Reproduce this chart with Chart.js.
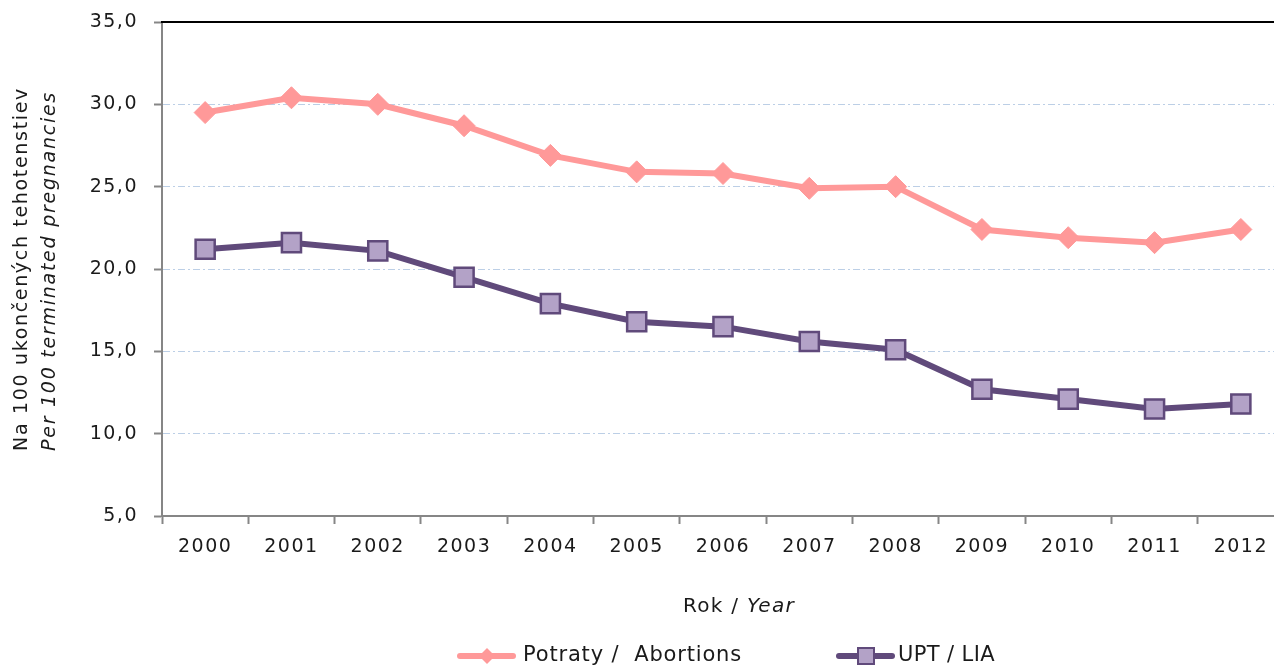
<!DOCTYPE html>
<html lang="sk">
<head>
    <meta charset="UTF-8">
    <title>Potraty a UPT na 100 ukončených tehotenstiev</title>
    <style>
        html, body {
            margin: 0;
            padding: 0;
            background-color: white;
            overflow: hidden;
        }
        #wrap {
            width: 1300px;
            height: 666px;
        }
    </style>
</head>
<body>
    <div id="wrap">
        <canvas id="lineChart" width="1300" height="666"></canvas>
    </div>

    <script src="https://cdn.jsdelivr.net/npm/chart.js"></script>
    <script>
        // Data
        const years = ['2000', '2001', '2002', '2003', '2004', '2005', '2006',
                       '2007', '2008', '2009', '2010', '2011', '2012'];
        const abortions = [29.5, 30.4, 30.0, 28.7, 26.9, 25.9, 25.8, 24.9, 25.0, 22.4, 21.9, 21.6, 22.4];
        const upt = [21.2, 21.6, 21.1, 19.5, 17.9, 16.8, 16.5, 15.6, 15.1, 12.7, 12.1, 11.5, 11.8];
        const yTicks = [5, 10, 15, 20, 25, 30, 35];

        const PINK = '#FF9999';
        const PURPLE = '#604A7B';
        const LILAC = '#B3A2C7';
        const AXIS = '#868686';
        const TEXT = '#1a1a1a';
        const FONT = '"DejaVu Sans"';

        // draw text stretched with letter spacing to a given width
        function fitText(ctx, text, font, x, y, width) {
            ctx.font = font;
            ctx.letterSpacing = '0px';
            const w = ctx.measureText(text).width;
            const ls = Math.max((width - w) / text.length, 0);
            ctx.letterSpacing = ls + 'px';
            ctx.fillText(text, x, y);
            ctx.letterSpacing = '0px';
        }

        // titles and legend drawn by hand (mixed upright / italic text)
        const extras = {
            id: 'extras',
            beforeDraw(chart) {
                chart.ctx.letterSpacing = '1.5px';
            },
            afterDraw(chart) {
                const ctx = chart.ctx;
                const area = chart.chartArea;
                ctx.save();
                ctx.letterSpacing = '0px';

                // frame top line
                ctx.strokeStyle = '#000';
                ctx.lineWidth = 2;
                ctx.beginPath();
                ctx.moveTo(area.left - 1, area.top);
                ctx.lineTo(area.right, area.top);
                ctx.stroke();

                ctx.fillStyle = TEXT;
                ctx.textBaseline = 'middle';

                // y title, two lines
                ctx.save();
                const midY = (area.top + area.bottom) / 2;
                ctx.translate(22, midY);
                ctx.rotate(-Math.PI / 2);
                ctx.textAlign = 'left';
                fitText(ctx, 'Na 100 ukončených tehotenstiev', '19px ' + FONT, -182, 0, 364);
                fitText(ctx, 'Per 100 terminated pregnancies', 'italic 19px ' + FONT, -182, 28, 360);
                ctx.restore();

                // x title
                ctx.textAlign = 'left';
                const fa = '20px ' + FONT;
                const fb = 'italic 20px ' + FONT;
                ctx.font = fa;
                const wa = ctx.measureText('Rok / ').width;
                ctx.font = fb;
                const wb = ctx.measureText('Year').width;
                const ls = Math.max((112 - wa - wb) / 10, 0);
                ctx.letterSpacing = ls + 'px';
                ctx.font = fa;
                ctx.fillText('Rok / ', 683, 607);
                ctx.font = fb;
                ctx.fillText('Year', 683 + wa + ls * 6, 607);
                ctx.letterSpacing = '0px';

                // legend
                const ly = 656;
                ctx.lineWidth = 6;
                ctx.lineCap = 'round';
                ctx.strokeStyle = PINK;
                ctx.beginPath();
                ctx.moveTo(460, ly);
                ctx.lineTo(513, ly);
                ctx.stroke();
                ctx.fillStyle = PINK;
                ctx.beginPath();
                ctx.moveTo(487, ly - 8);
                ctx.lineTo(495, ly);
                ctx.lineTo(487, ly + 8);
                ctx.lineTo(479, ly);
                ctx.closePath();
                ctx.fill();

                ctx.strokeStyle = PURPLE;
                ctx.beginPath();
                ctx.moveTo(839, ly);
                ctx.lineTo(892, ly);
                ctx.stroke();
                ctx.fillStyle = LILAC;
                ctx.lineWidth = 2;
                ctx.fillRect(858, ly - 8, 16, 16);
                ctx.strokeRect(858, ly - 8, 16, 16);

                ctx.fillStyle = TEXT;
                fitText(ctx, 'Potraty /  Abortions', '21px ' + FONT, 523, ly, 219);
                fitText(ctx, 'UPT / LIA', '21px ' + FONT, 898, ly, 97);
                ctx.restore();
            }
        };

        const noPad = scale => {
            scale.paddingLeft = 0;
            scale.paddingRight = 0;
            scale.paddingTop = 0;
            scale.paddingBottom = 0;
        };

        const ctx = document.getElementById('lineChart').getContext('2d');
        const lineChart = new Chart(ctx, {
            type: 'line',
            data: {
                labels: years,
                datasets: [
                    {
                        label: 'Potraty /  Abortions',
                        data: abortions,
                        borderColor: PINK,
                        backgroundColor: PINK,
                        borderWidth: 6,
                        pointStyle: 'rectRot',
                        pointRadius: 11,
                        pointHoverRadius: 11,
                        pointBorderWidth: 1,
                        tension: 0
                    },
                    {
                        label: 'UPT / LIA',
                        data: upt,
                        borderColor: PURPLE,
                        backgroundColor: LILAC,
                        pointBorderColor: PURPLE,
                        borderWidth: 6,
                        pointStyle: 'rect',
                        pointRadius: 13.5,
                        pointHoverRadius: 13.5,
                        pointBorderWidth: 2.5,
                        tension: 0
                    }
                ]
            },
            options: {
                responsive: false,
                animation: false,
                layout: { padding: { top: 22, right: 7, left: 0, bottom: 0 } },
                plugins: {
                    legend: { display: false },
                    tooltip: { enabled: false }
                },
                scales: {
                    x: {
                        offset: true,
                        grid: {
                            offset: true,
                            drawOnChartArea: false,
                            tickLength: 8,
                            tickColor: AXIS,
                            tickWidth: 2
                        },
                        border: { color: AXIS, width: 2 },
                        ticks: {
                            color: TEXT,
                            font: { family: 'DejaVu Sans', size: 19 },
                            padding: 12,
                            maxRotation: 0
                        },
                        afterFit(scale) {
                            scale.height = 150;
                            noPad(scale);
                        }
                    },
                    y: {
                        min: 5,
                        max: 35,
                        afterBuildTicks(scale) {
                            scale.ticks = yTicks.map(v => ({ value: v }));
                        },
                        grid: {
                            color: c => (c.tick && (c.tick.value === 5 || c.tick.value === 35)) ? 'rgba(0,0,0,0)' : '#BCCFE6',
                            lineWidth: 1,
                            tickLength: 8,
                            tickColor: AXIS,
                            tickWidth: 2
                        },
                        border: { color: AXIS, width: 2, dash: [7, 3, 2, 3] },
                        ticks: {
                            color: TEXT,
                            font: { family: 'DejaVu Sans', size: 19 },
                            padding: 16,
                            callback: v => v.toFixed(1).replace('.', ',')
                        },
                        afterFit(scale) {
                            scale.width = 162;
                            noPad(scale);
                        }
                    }
                }
            },
            plugins: [extras]
        });
    </script>
</body>
</html>
